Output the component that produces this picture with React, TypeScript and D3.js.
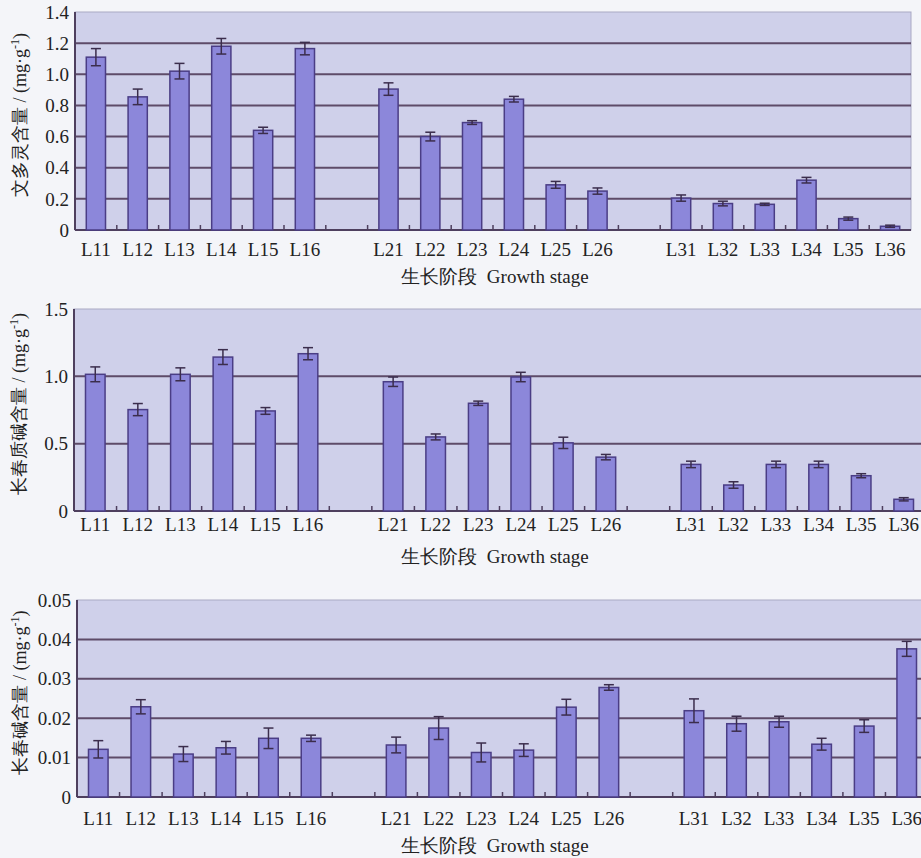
import React from 'react';
import * as d3 from 'd3';

// Growth stages (three groups of six, with an empty slot between groups)
const group1 = ['L11', 'L12', 'L13', 'L14', 'L15', 'L16'];
const group2 = ['L21', 'L22', 'L23', 'L24', 'L25', 'L26'];
const group3 = ['L31', 'L32', 'L33', 'L34', 'L35', 'L36'];
const slots = [...group1, 'gap1', ...group2, 'gap2', ...group3];
const stages = [...group1, ...group2, ...group3];

// 文多灵 (vindoline)
const vindolineMean = [1.11, 0.855, 1.02, 1.18, 0.64, 1.165, 0.905, 0.6, 0.69, 0.84, 0.29, 0.25, 0.205, 0.17, 0.165, 0.32, 0.073, 0.024];
const vindolineErr = [0.055, 0.05, 0.05, 0.05, 0.02, 0.04, 0.04, 0.028, 0.012, 0.018, 0.022, 0.02, 0.02, 0.015, 0.007, 0.018, 0.01, 0.007];
const vindolineTicks = [0, 0.2, 0.4, 0.6, 0.8, 1.0, 1.2, 1.4];

// 长春质碱 (catharanthine)
const catharanthineMean = [1.015, 0.753, 1.015, 1.143, 0.743, 1.168, 0.96, 0.55, 0.8, 0.995, 0.506, 0.4, 0.346, 0.193, 0.346, 0.346, 0.262, 0.087];
const catharanthineErr = [0.055, 0.045, 0.048, 0.055, 0.025, 0.045, 0.035, 0.022, 0.016, 0.035, 0.042, 0.02, 0.024, 0.024, 0.024, 0.024, 0.015, 0.012];
const catharanthineTicks = [0, 0.5, 1.0, 1.5];

// 长春碱 (vinblastine)
const vinblastineMean = [0.0121, 0.0229, 0.0109, 0.0125, 0.0149, 0.0149, 0.0132, 0.0175, 0.0113, 0.0119, 0.0228, 0.0278, 0.0219, 0.0186, 0.0191, 0.0134, 0.018, 0.0376];
const vinblastineErr = [0.0022, 0.0018, 0.0019, 0.0016, 0.0026, 0.0008, 0.002, 0.0029, 0.0024, 0.0016, 0.002, 0.0007, 0.003, 0.0019, 0.0014, 0.0015, 0.0016, 0.0019];
const vinblastineTicks = [0, 0.01, 0.02, 0.03, 0.04, 0.05];

const xTitle = '生长阶段\u00a0\u00a0Growth stage';

const panels = [
  { title: '文多灵含量 / (mg·g', mean: vindolineMean, err: vindolineErr, ticks: vindolineTicks, digits: 1,
    left: 75, right: 911, top: 12, bottom: 230, catY: 256, titleY: 283, yTitleX: 20 },
  { title: '长春质碱含量 / (mg·g', mean: catharanthineMean, err: catharanthineErr, ticks: catharanthineTicks, digits: 1,
    left: 74, right: 925, top: 309, bottom: 511, catY: 531, titleY: 563, yTitleX: 19 },
  { title: '长春碱含量 / (mg·g', mean: vinblastineMean, err: vinblastineErr, ticks: vinblastineTicks, digits: 2,
    left: 77, right: 928, top: 600, bottom: 797, catY: 825, titleY: 852, yTitleX: 20 },
];

const FONT = "'Liberation Serif'";
const textStyle = { fontFamily: FONT, fontSize: 19 };

type Panel = typeof panels[number];

const BarPanel = ({ p }: { p: Panel }) => {
  const x = d3.scaleBand().domain(slots).range([p.left, p.right]);
  const yMax = p.ticks[p.ticks.length - 1];
  const y = d3.scaleLinear().domain([0, yMax]).range([p.bottom, p.top]);
  const bw = x.bandwidth() * 0.46;
  const cx = (s: string) => (x(s) as number) + x.bandwidth() / 2;
  const rows = stages.map((s, i) => ({ stage: s, mean: p.mean[i], err: p.err[i] }));

  return (
    <g>
      {/* plot background */}
      <rect x={p.left} y={p.top} width={p.right - p.left} height={p.bottom - p.top}
        fill="#cfd0ea" stroke="#a9a9c4" strokeWidth={1} />

      {/* gridlines */}
      {p.ticks.filter(t => t > 0 && t < yMax).map(t => (
        <line key={t} x1={p.left} x2={p.right} y1={y(t)} y2={y(t)} stroke="#5e4b68" strokeWidth={2} />
      ))}

      {/* axes */}
      <line x1={p.left} x2={p.right} y1={p.bottom} y2={p.bottom} stroke="#4e3f5e" strokeWidth={2} />
      <line x1={p.left} x2={p.left} y1={p.top} y2={p.bottom} stroke="#4e3f5e" strokeWidth={2} />

      {/* x tick marks at slot boundaries */}
      {slots.slice(1).map(s => (
        <line key={s} x1={x(s)} x2={x(s)} y1={p.bottom} y2={p.bottom - 5} stroke="#4e3f5e" strokeWidth={1.5} />
      ))}

      {/* y tick labels */}
      {p.ticks.map(t => (
        <text key={t} x={p.left - 6} y={y(t)} dy="0.35em" textAnchor="end" fill="#222" style={textStyle}>
          {t === 0 ? '0' : t.toFixed(p.digits)}
        </text>
      ))}

      {/* bars */}
      {rows.map(d => (
        <rect key={d.stage} x={cx(d.stage) - bw / 2} y={y(d.mean)} width={bw} height={p.bottom - y(d.mean)}
          fill="#8c87da" stroke="#4a3d85" strokeWidth={1.5} />
      ))}

      {/* error bars */}
      {rows.map(d => (
        <g key={d.stage} stroke="#3b2d4c" strokeWidth={1.5}>
          <line x1={cx(d.stage)} x2={cx(d.stage)} y1={y(d.mean - d.err)} y2={y(d.mean + d.err)} />
          <line x1={cx(d.stage) - 5} x2={cx(d.stage) + 5} y1={y(d.mean + d.err)} y2={y(d.mean + d.err)} />
          <line x1={cx(d.stage) - 5} x2={cx(d.stage) + 5} y1={y(d.mean - d.err)} y2={y(d.mean - d.err)} />
        </g>
      ))}

      {/* category labels */}
      {stages.map(s => (
        <text key={s} x={cx(s)} y={p.catY} textAnchor="middle" fill="#222" style={textStyle}>{s}</text>
      ))}

      {/* x-axis title */}
      <text x={495} y={p.titleY} textAnchor="middle" fill="#222" style={textStyle}>{xTitle}</text>

      {/* y-axis title */}
      <text transform={`translate(${p.yTitleX},${(p.top + p.bottom) / 2 - 6}) rotate(-90)`}
        textAnchor="middle" dy="0.35em" fill="#222" style={{ fontFamily: FONT, fontSize: 18 }}>
        <tspan>{p.title}</tspan>
        <tspan dy={-7} style={{ fontSize: 12 }}>-1</tspan>
        <tspan dy={7}>)</tspan>
      </text>
    </g>
  );
};

const App = () => (
  <svg width={921} height={858} style={{ position: 'absolute', left: 0, top: 0 }}>
    <rect width={921} height={858} fill="#f4f5f9" />
    {panels.map(p => <BarPanel key={p.title} p={p} />)}
  </svg>
);

export default App;
